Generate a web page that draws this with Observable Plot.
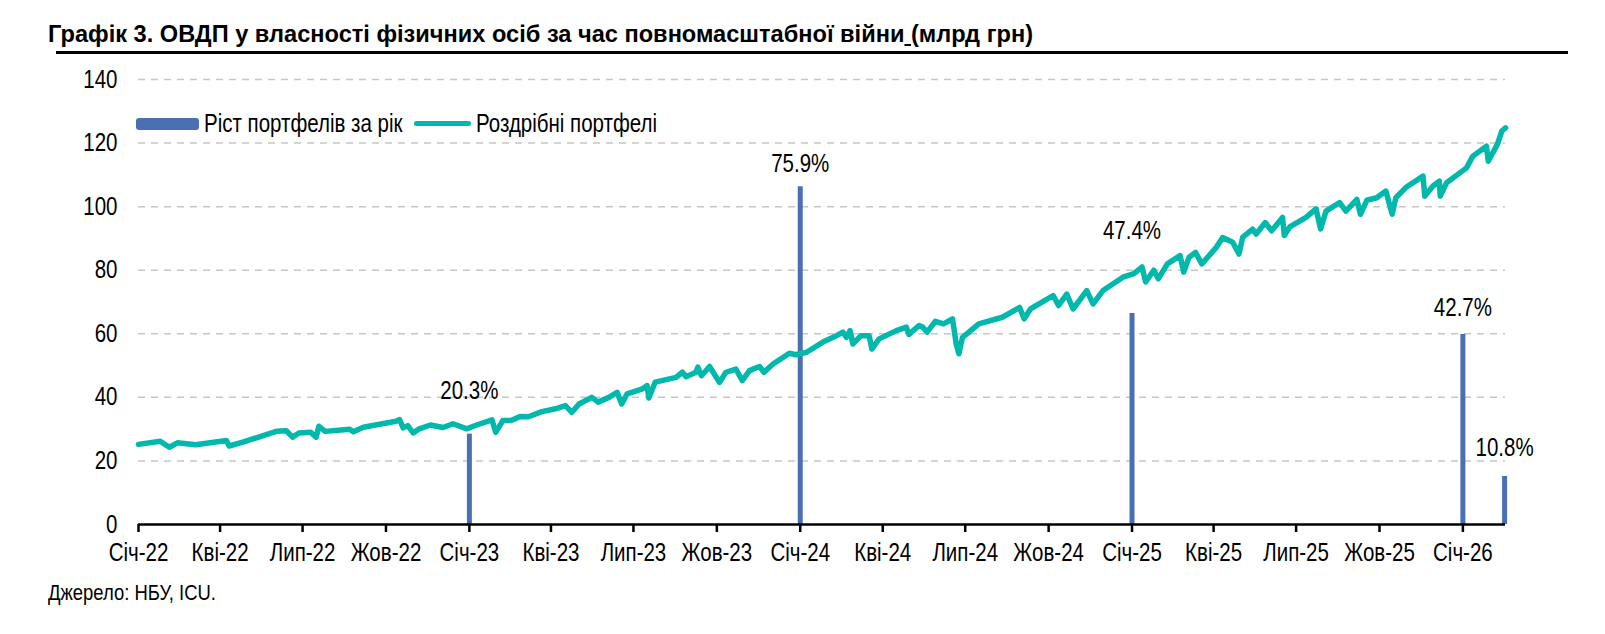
<!DOCTYPE html>
<html><head><meta charset="utf-8">
<script src="https://cdn.jsdelivr.net/npm/d3@7"></script>
<script src="https://cdn.jsdelivr.net/npm/@observablehq/plot@0.6"></script>
<style>
  html,body{margin:0;padding:0;background:#fff;}
  #wrap{position:relative;width:1605px;height:634px;overflow:hidden;font-family:'Liberation Sans',Arial,sans-serif;color:#000;}
  .nx{display:inline-block;transform:scaleX(0.82);transform-origin:left center;white-space:nowrap;}
  #title{position:absolute;left:48px;top:21px;font-weight:bold;font-size:23px;white-space:nowrap;}
  #rule{position:absolute;left:56px;top:51px;width:1512px;height:2.5px;background:#000;}
  #chart{position:absolute;left:0;top:60px;}
  #source{position:absolute;left:48px;top:580px;font-size:22.5px;}
  .leg{position:absolute;font-size:25px;white-space:nowrap;line-height:25px;}
  [aria-label="x-axis tick"]{stroke-width:2.5px;}
</style></head>
<body><div id="wrap">
<div id="title"><span class="nx" id="titleText">Графік 3. ОВДП у власності фізичних осіб за час повномасштабної війни<u> </u>(млрд грн)</span></div>
<div id="rule"></div>
<div id="chart"></div>
<div id="legend">
  <div id="sw1" style="position:absolute;left:136px;top:118px;width:63px;height:12px;background:#4a70b3;border-radius:3px;"></div>
  <div class="leg" id="lt1" style="left:204px;top:111px;"><span class="nx">Ріст портфелів за рік</span></div>
  <div id="sw2" style="position:absolute;left:400px;top:121px;width:57px;height:5px;background:#00b8ac;border-radius:3px;"></div>
  <div class="leg" id="lt2" style="left:462px;top:111px;"><span class="nx">Роздрібні портфелі</span></div>
</div>
<div id="source"><span class="nx">Джерело: НБУ, ICU.</span></div>
</div>
<script>
// Retail portfolio (bn UAH)
const lineDates = [
"2022-01-01","2022-01-25","2022-02-04","2022-02-13","2022-03-05","2022-04-08","2022-04-11","2022-04-26",
"2022-06-02","2022-06-13","2022-06-20","2022-06-27","2022-07-10","2022-07-16","2022-07-19","2022-07-26",
"2022-08-22","2022-08-26","2022-09-06","2022-10-12","2022-10-16","2022-10-20","2022-10-25","2022-10-31",
"2022-11-06","2022-11-19","2022-12-03","2022-12-14","2022-12-29","2023-01-09","2023-01-26","2023-01-30",
"2023-02-07","2023-02-16","2023-02-26","2023-03-07","2023-03-22","2023-04-06","2023-04-17","2023-04-24",
"2023-05-02","2023-05-16","2023-05-23","2023-06-04","2023-06-13","2023-06-18","2023-06-24","2023-07-11",
"2023-07-16","2023-07-18","2023-07-25","2023-08-17","2023-08-24","2023-08-28","2023-09-08","2023-09-10",
"2023-09-14","2023-09-23","2023-10-04","2023-10-11","2023-10-22","2023-10-29","2023-11-06","2023-11-17",
"2023-11-22","2023-12-02","2023-12-20","2023-12-27","2024-01-08","2024-01-26","2024-02-10","2024-02-17",
"2024-02-21","2024-02-25","2024-02-28","2024-03-08","2024-03-17","2024-03-20","2024-03-28","2024-04-16",
"2024-04-27","2024-04-30","2024-05-11","2024-05-15","2024-05-20","2024-05-29","2024-06-07","2024-06-17",
"2024-06-21","2024-06-24","2024-06-28","2024-07-09","2024-07-16","2024-08-11","2024-08-30","2024-09-04",
"2024-09-11","2024-10-06","2024-10-12","2024-10-21","2024-10-28","2024-11-12","2024-11-19","2024-11-30",
"2024-12-22","2025-01-03","2025-01-12","2025-01-16","2025-01-25","2025-01-30","2025-02-09","2025-02-23",
"2025-02-27","2025-03-05","2025-03-12","2025-03-19","2025-04-04","2025-04-11","2025-04-22","2025-04-29",
"2025-05-03","2025-05-14","2025-05-18","2025-05-28","2025-06-04","2025-06-16","2025-06-18","2025-06-24",
"2025-07-12","2025-07-23","2025-07-28","2025-08-03","2025-08-18","2025-08-25","2025-09-06","2025-09-10",
"2025-09-17","2025-09-28","2025-10-08","2025-10-15","2025-10-19","2025-10-30","2025-11-18","2025-11-20",
"2025-11-29","2025-12-06","2025-12-07","2025-12-14","2026-01-05","2026-01-12","2026-01-27","2026-01-29",
"2026-02-08","2026-02-13","2026-02-17"];
const lineValues = [
25.2,26.2,24.3,25.7,25.1,26.4,24.7,25.9,
29.3,29.5,27.5,28.8,29.0,27.5,30.9,29.3,
30.0,29.2,30.6,32.5,33.0,30.4,31.1,28.8,
30.0,31.3,30.5,31.7,30.1,31.3,32.9,29.0,
32.7,32.7,34.0,33.9,35.5,36.4,37.4,35.3,
37.9,40.0,38.5,40.0,41.6,37.9,41.1,42.7,
43.7,39.8,44.8,46.3,47.9,46.5,47.9,49.5,
46.8,49.7,44.7,47.9,48.9,45.3,48.4,49.7,
47.9,50.5,53.9,53.4,54.2,57.4,59.4,60.5,
58.9,61.0,56.8,59.4,59.4,55.2,58.4,61.0,
62.1,59.8,62.6,62.1,60.5,63.9,63.1,64.7,
56.8,53.7,58.9,61.5,63.1,65.2,68.3,64.7,
67.8,72.0,68.9,72.5,67.8,73.6,69.4,73.6,
77.8,78.9,81.0,76.3,80.0,77.3,82.0,84.6,
79.4,84.1,85.6,82.0,87.2,90.3,88.8,85.1,
90.3,92.9,91.4,95.0,92.4,96.6,90.9,93.6,
96.6,99.3,93.0,98.6,101.3,98.6,102.3,97.6,
102.0,102.8,104.9,97.6,102.8,106.0,109.6,103.3,
106.5,108.0,103.3,107.5,112.2,115.9,119.0,114.3,
119.6,123.8,124.8];

// Annual portfolio growth (%) – secondary axis 0..100%
const barDates = ["2023-01-01","2024-01-01","2025-01-01","2026-01-01","2026-02-16"];
const barPcts = [20.3, 75.9, 47.4, 42.7, 10.8];

// Axis
const yTicks = [0,20,40,60,80,100,120,140];
const monthLabels = {0:"Січ",3:"Кві",6:"Лип",9:"Жов"};

// style / layout (not data)
const secondaryScale = 140 / 100;
const labelOffsets = [-35, -15, -75, -18, -20];
const TEAL = "#00b8ac", BLUE = "#4a70b3";
const FONT = "'Liberation Sans',Arial,sans-serif";

const series = lineDates.map((d,i)=>({date:new Date(d), value:lineValues[i]}));
const bars = barDates.map((d,i)=>({date:new Date(d), pct:barPcts[i], dy:labelOffsets[i]}));
const xStart = new Date("2022-01-01"), xEnd = new Date("2026-02-17");
const tickDates = d3.utcMonths(xStart, new Date("2026-01-02"), 3);

const chart = Plot.plot({
  width:1605, height:520,
  marginLeft:138, marginRight:100, marginTop:19, marginBottom:56,
  style:{fontFamily:FONT, fontSize:"25px", color:"#000", background:"transparent", overflow:"visible"},
  x:{type:"utc", domain:[xStart,xEnd], ticks:tickDates, tickFormat:d=>monthLabels[d.getUTCMonth()]+"-"+String(d.getUTCFullYear()).slice(2), tickSize:8, tickPadding:11, label:null},
  y:{domain:[0,140], ticks:yTicks, tickSize:0, tickPadding:21, label:null},
  marks:[
    Plot.ruleY(yTicks.filter(d=>d>0), {stroke:"#c6c6c6", strokeWidth:1.5, strokeDasharray:"7,6"}),
    Plot.ruleX(bars, {x:"date", y1:0, y2:d=>d.pct*secondaryScale, stroke:BLUE, strokeWidth:5}),
    Plot.line(series, {x:"date", y:"value", stroke:TEAL, strokeWidth:5.5, strokeLinejoin:"round", strokeLinecap:"round"}),
    Plot.ruleY([0], {stroke:"#000", strokeWidth:2.5}),
    ...bars.map(b=>Plot.text([b], {x:"date", y:d=>d.pct*secondaryScale, text:d=>d.pct.toFixed(1)+"%", dy:b.dy, lineAnchor:"bottom", fill:"#000", fontSize:25}))
  ]
});
document.getElementById("chart").appendChild(chart);

// narrow (Arial Narrow-like) glyphs: horizontal squeeze around each text's anchor
chart.querySelectorAll("text").forEach(el => {
  const t = el.getAttribute("transform") || "";
  const x = parseFloat(el.getAttribute("x") || "0") || 0;
  el.setAttribute("transform", `${t} translate(${x},0) scale(0.82,1) translate(${-x},0)`);
});

// legend layout after the first label's real width
const wrapLeft = document.getElementById("wrap").getBoundingClientRect().left;
const r1 = document.querySelector("#lt1 .nx").getBoundingClientRect().right - wrapLeft;
const sw2 = document.getElementById("sw2");
sw2.style.left = (r1 + 11) + "px";
document.getElementById("lt2").style.left = (r1 + 11 + 57 + 5) + "px";

// fit the title to its width in the reference
const tt = document.getElementById("titleText");
tt.style.transform = "none";
const w = tt.getBoundingClientRect().width;
tt.style.transform = "scaleX(" + (985 / w) + ")";
</script>
</body></html>
